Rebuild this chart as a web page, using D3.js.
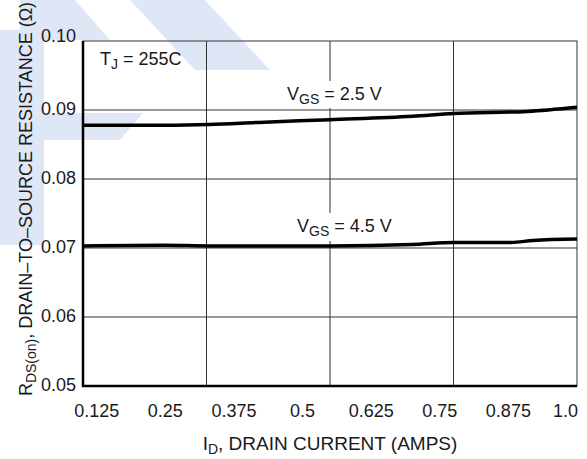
<!DOCTYPE html>
<html>
<head>
<meta charset="utf-8">
<script src="https://cdn.jsdelivr.net/npm/d3@7"></script>
<style>
  body { margin: 0; background: #fff; }
  text { font-family: "Liberation Sans", Arial, sans-serif; fill: #1a1a1a; }
</style>
</head>
<body>
<script>
// drain current (A) and on-resistance (ohm)
var current = [0.10, 0.25, 0.33, 0.42, 0.55, 0.70, 0.775, 0.91, 1.0];
var rds25 = [0.0878, 0.0878, 0.0879, 0.0882, 0.0886, 0.0891, 0.0895, 0.0898, 0.0904];
var current45 = [0.10, 0.25, 0.33, 0.55, 0.70, 0.775, 0.88, 0.92, 1.0];
var rds45 = [0.0703, 0.0704, 0.0703, 0.0703, 0.0705, 0.0708, 0.0708, 0.0711, 0.0713];

var xTicks = [0.125, 0.25, 0.375, 0.5, 0.625, 0.75, 0.875, 1.0];
var xTickLabels = ["0.125", "0.25", "0.375", "0.5", "0.625", "0.75", "0.875", "1.0"];
var xGrid = [0.325, 0.55, 0.775];
var yTicks = [0.05, 0.06, 0.07, 0.08, 0.09, 0.10];
var yTickLabels = ["0.05", "0.06", "0.07", "0.08", "0.09", "0.10"];

var width = 587;
var height = 459;
var margin = {top: 41, right: 10, bottom: 73, left: 83};
var fs = 18;

var svg = d3.select("body")
    .append("svg")
    .attr("width", width)
    .attr("height", height);

// faint watermark behind everything
var wm = svg.append("g").attr("fill", "#dfe7f6");
var shapes = [
    [[0, 30], [44, 30], [44, 245], [0, 245]],
    [[0, 113], [143, 113], [120, 140], [0, 140]],
    [[130, 0], [205, 0], [270, 70], [195, 70]],
    [[20, 0], [75, 0], [110, 40], [20, 40]]
];
wm.selectAll("polygon")
    .data(shapes)
    .enter().append("polygon")
    .attr("points", function(d) { return d.join(" "); });

var x = d3.scaleLinear()
    .domain([0.1, 1.0])
    .range([margin.left, width - margin.right]);

var y = d3.scaleLinear()
    .domain([0.05, 0.10])
    .range([height - margin.bottom, margin.top]);

var g = svg.append("g");

// grid
g.selectAll(".vgrid")
    .data(xGrid)
    .enter().append("line")
    .attr("x1", function(d) { return x(d); })
    .attr("x2", function(d) { return x(d); })
    .attr("y1", y(0.05))
    .attr("y2", y(0.10))
    .attr("stroke", "#333")
    .attr("stroke-width", 1);

g.selectAll(".hgrid")
    .data(yTicks.slice(1, -1))
    .enter().append("line")
    .attr("x1", x(0.1))
    .attr("x2", x(1.0))
    .attr("y1", function(d) { return y(d); })
    .attr("y2", function(d) { return y(d); })
    .attr("stroke", "#333")
    .attr("stroke-width", 1);

// frame: thin top/right, heavy left/bottom
g.append("rect")
    .attr("x", x(0.1))
    .attr("y", y(0.10))
    .attr("width", x(1.0) - x(0.1))
    .attr("height", y(0.05) - y(0.10))
    .attr("fill", "none")
    .attr("stroke", "#333")
    .attr("stroke-width", 1);

g.append("path")
    .attr("d", "M" + x(0.1) + "," + y(0.10) + "V" + y(0.05) + "H" + x(1.0))
    .attr("fill", "none")
    .attr("stroke", "#000")
    .attr("stroke-width", 2.5);

// labels with subscript; white box breaks the grid line
function subLabel(parent, px, py, main, sub, rest, size) {
    var t = parent.append("text")
        .attr("x", px)
        .attr("y", py)
        .attr("font-size", size || fs);
    t.append("tspan").text(main);
    t.append("tspan").attr("dy", 4).attr("font-size", 14).text(sub);
    t.append("tspan").attr("dy", -4).text(rest);
    return t;
}

var lab25 = g.append("g");
lab25.append("rect").attr("x", 284).attr("y", 81).attr("width", 108).attr("height", 27).attr("fill", "#fff");
subLabel(lab25, 287, 100, "V", "GS", " = 2.5 V");

var lab45 = g.append("g");
lab45.append("rect").attr("x", 294).attr("y", 213).attr("width", 108).attr("height", 28).attr("fill", "#fff");
subLabel(lab45, 297, 232, "V", "GS", " = 4.5 V");

subLabel(g, 100, 65, "T", "J", " = 255C");

// curves
var line = d3.line()
    .x(function(d) { return x(d[0]); })
    .y(function(d) { return y(d[1]); })
    .curve(d3.curveMonotoneX);

g.append("path")
    .datum(d3.zip(current, rds25))
    .attr("d", line)
    .attr("fill", "none")
    .attr("stroke", "#000")
    .attr("stroke-width", 3.5);

g.append("path")
    .datum(d3.zip(current45, rds45))
    .attr("d", line)
    .attr("fill", "none")
    .attr("stroke", "#000")
    .attr("stroke-width", 3.5);

// tick labels
g.selectAll(".ylab")
    .data(yTicks)
    .enter().append("text")
    .attr("x", 76)
    .attr("y", function(d, i) { return y(d) + (i === yTicks.length - 1 ? 1 : 5); })
    .attr("text-anchor", "end")
    .attr("font-size", fs)
    .text(function(d, i) { return yTickLabels[i]; });

g.selectAll(".xlab")
    .data(xTicks)
    .enter().append("text")
    .attr("x", function(d, i) { return i === xTicks.length - 1 ? x(1.0) + 1 : x(d); })
    .attr("y", 417)
    .attr("text-anchor", function(d, i) { return i === xTicks.length - 1 ? "end" : "middle"; })
    .attr("font-size", fs)
    .text(function(d, i) { return xTickLabels[i]; });

// axis titles
var xt = subLabel(g, (x(0.1) + x(1.0)) / 2, 450, "I", "D", ", DRAIN CURRENT (AMPS)", 19)
    .attr("text-anchor", "middle");

var yt = subLabel(g, 0, 0, "R", "DS(on)", ", DRAIN\u2013TO\u2013SOURCE RESISTANCE (\u03A9)")
    .attr("transform", "translate(32,199) rotate(-90)")
    .attr("text-anchor", "middle");
</script>
</body>
</html>
